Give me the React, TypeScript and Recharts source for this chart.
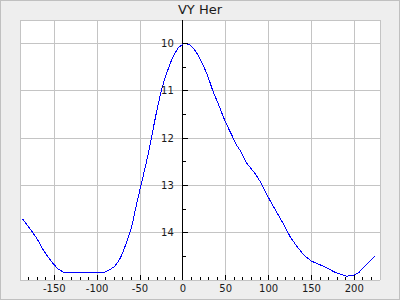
import React from 'react';
import { LineChart, Line, XAxis, YAxis, CartesianGrid, ReferenceLine } from 'recharts';

// light curve of VY Her, phase vs magnitude
const phases = [
  -187, -180, -175, -170, -163, -157, -152, -146, -140, -133, -120, -105, -93, -86, -80, -75, -72,
  -68, -64, -60, -55, -50, -45, -41, -37, -31, -25, -20, -15, -10, -5, 0, 3, 8, 12, 17, 23, 29, 35,
  41, 47, 51, 57, 62, 67, 74, 84, 90, 99, 109, 119, 125, 133, 142, 150, 164, 179, 191, 199, 205,
  210, 218, 224,
];
const mags = [
  13.71, 13.88, 14.0, 14.13, 14.36, 14.52, 14.64, 14.76, 14.83, 14.85, 14.85, 14.85, 14.85, 14.79,
  14.72, 14.6, 14.5, 14.32, 14.11, 13.9, 13.48, 13.08, 12.7, 12.38, 12.02, 11.47, 10.98, 10.68,
  10.43, 10.22, 10.08, 10.01, 10.0, 10.02, 10.09, 10.22, 10.43, 10.68, 11.0, 11.26, 11.54, 11.71,
  11.93, 12.13, 12.26, 12.52, 12.74, 12.91, 13.23, 13.55, 13.87, 14.08, 14.29, 14.49, 14.6, 14.71,
  14.85, 14.92, 14.9, 14.85, 14.75, 14.61, 14.49,
];

const xTicks = [
  -180, -170, -160, -150, -140, -130, -120, -110, -100, -90, -80, -70, -60, -50, -40, -30, -20, -10,
  0, 10, 20, 30, 40, 50, 60, 70, 80, 90, 100, 110, 120, 130, 140, 150, 160, 170, 180, 190, 200, 210,
  220,
];
const xLabels = [-150, -100, -50, 0, 50, 100, 150, 200];
const yTicks = [10, 10.5, 11, 11.5, 12, 12.5, 13, 13.5, 14, 14.5];
const yLabels = [10, 11, 12, 13, 14];

const data = phases.map((p, i) => ({ phase: p, mag: mags[i] }));

const W = 400;
const H = 300;
// axes take 1px each (an axis of size 0 is not drawn), so the plot is 20..380 x 20..280
const margin = { top: 20, right: 20, bottom: 19, left: 19 };
const plotLeft = 20;
const plotW = 360;
const xDomain: [number, number] = [-190, 230];
const yDomain: [number, number] = [9.5, 15];
// y axis is drawn through phase 0
const axisX = plotLeft + ((0 - xDomain[0]) / (xDomain[1] - xDomain[0])) * plotW;

const font = "'DejaVu Sans', sans-serif";

function XTick(props: any) {
  const { x, y, payload } = props;
  const v = payload.value;
  const major = xLabels.includes(v);
  return (
    <g>
      <line x1={x} x2={x} y1={y} y2={y - (major ? 5 : 3)} stroke="#000" />
      {major && (
        <text x={x} y={y + 12} textAnchor="middle" fontSize={10} fontFamily={font} fill="#1a1a1a">
          {v}
        </text>
      )}
    </g>
  );
}

function YTick(props: any) {
  const { y, payload } = props;
  const v = payload.value;
  const major = yLabels.includes(v);
  return (
    <g>
      <line x1={axisX} x2={axisX + (major ? 5 : 3)} y1={y} y2={y} stroke="#000" />
      {major && (
        <text x={axisX - 9} y={y} dy="0.35em" textAnchor="end" fontSize={10} fontFamily={font} fill="#1a1a1a">
          {v}
        </text>
      )}
    </g>
  );
}

export default function App() {
  return (
    <div style={{ position: 'fixed', left: 0, top: 0, width: W, height: H, background: '#eeeeee' }}>
      <style>{'.vy svg line, .vy svg path { shape-rendering: crispEdges; }'}</style>
      <div
        style={{
          position: 'absolute',
          left: 0,
          top: 0,
          width: W,
          height: 20,
          lineHeight: '20px',
          textAlign: 'center',
          fontFamily: font,
          fontSize: 13,
          color: '#1a1a1a',
        }}
      >
        VY Her
      </div>
      <div className="vy" style={{ position: 'absolute', left: 0, top: 0 }}>
        <LineChart width={W} height={H} data={data} margin={margin}>
          <CartesianGrid
            fill="#ffffff"
            stroke="#c4c4c4"
            horizontalValues={[9.5, ...yLabels, 15]}
            verticalValues={[xDomain[0], ...xLabels, xDomain[1]]}
          />
          <ReferenceLine x={0} stroke="#000" />
          <XAxis
            dataKey="phase"
            type="number"
            domain={xDomain}
            allowDataOverflow
            ticks={xTicks}
            interval={0}
            height={1}
            tickSize={0}
            tickMargin={0}
            axisLine={false}
            tickLine={false}
            tick={<XTick />}
          />
          <YAxis
            type="number"
            domain={yDomain}
            reversed
            allowDataOverflow
            ticks={yTicks}
            interval={0}
            width={1}
            tickSize={0}
            tickMargin={0}
            axisLine={false}
            tickLine={false}
            tick={<YTick />}
          />
          <Line
            dataKey="mag"
            type="linear"
            stroke="#0000ff"
            strokeWidth={1}
            dot={false}
            isAnimationActive={false}
          />
        </LineChart>
      </div>
      <div
        style={{
          position: 'absolute',
          left: 0,
          top: 0,
          width: W,
          height: H,
          boxSizing: 'border-box',
          border: '1px solid #c0c0c0',
          pointerEvents: 'none',
        }}
      />
    </div>
  );
}
